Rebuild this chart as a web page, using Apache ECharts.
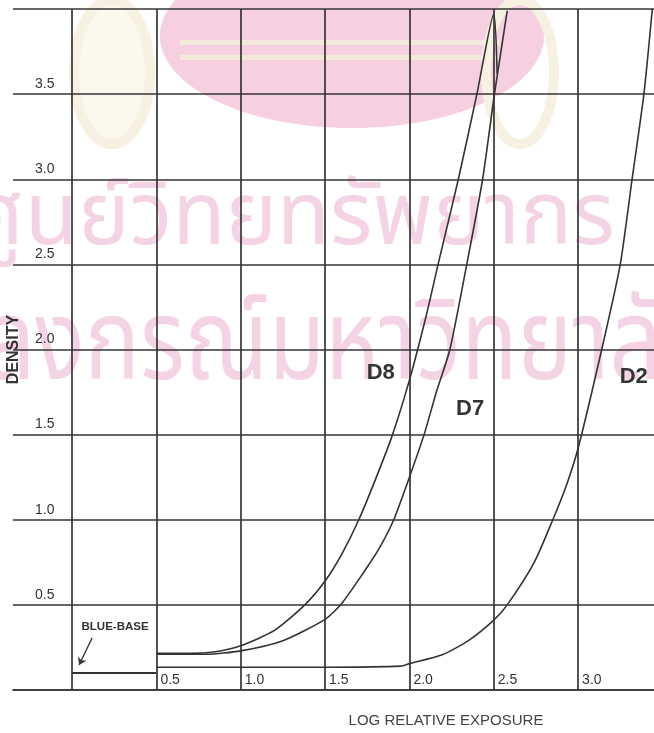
<!DOCTYPE html>
<html><head><meta charset="utf-8">
<script src="https://cdn.jsdelivr.net/npm/echarts@6/dist/echarts.min.js"></script>
<style>html,body{margin:0;padding:0;background:#fff}#c{width:654px;height:733px}</style>
</head><body><div id="c"></div>
<script>
// ---- data ----
const xGridValues = [0, 0.5, 1.0, 1.5, 2.0, 2.5, 3.0];
const xTickValues = [0.5, 1.0, 1.5, 2.0, 2.5, 3.0];
const xTickLabels = ['0.5', '1.0', '1.5', '2.0', '2.5', '3.0'];
const yTickValues = [0.5, 1.0, 1.5, 2.0, 2.5, 3.0, 3.5];
const yTickLabels = ['0.5', '1.0', '1.5', '2.0', '2.5', '3.0', '3.5'];

const d8X = [0.5, 0.7, 0.85, 1.0, 1.2, 1.38, 1.5, 1.6, 1.7, 1.8, 1.9, 2.0, 2.1, 2.17, 2.29, 2.4, 2.5, 2.52];
const d8Y = [0.215, 0.215, 0.225, 0.26, 0.35, 0.5, 0.64, 0.80, 1.0, 1.24, 1.5, 1.82, 2.2, 2.5, 3.0, 3.5, 3.97, 3.62];

const d7X = [0.5, 0.8, 1.0, 1.25, 1.5, 1.6, 1.735, 1.82, 1.907, 2.0, 2.087, 2.16, 2.24, 2.34, 2.434, 2.504, 2.58];
const d7Y = [0.21, 0.21, 0.23, 0.29, 0.415, 0.51, 0.70, 0.83, 1.0, 1.25, 1.5, 1.75, 2.0, 2.5, 3.0, 3.5, 3.99];

const d2X = [0.5, 1.0, 1.5, 1.95, 2.0, 2.19, 2.35, 2.5, 2.58, 2.74, 2.85, 2.93, 3.0, 3.14, 3.25, 3.32, 3.39, 3.44];
const d2Y = [0.134, 0.134, 0.134, 0.14, 0.155, 0.205, 0.29, 0.41, 0.5, 0.75, 1.0, 1.2, 1.42, 2.0, 2.5, 3.0, 3.5, 4.0];

const blueBaseX = [0, 0.5];
const blueBaseY = [0.10, 0.10];

const curveNames = ['D8', 'D7', 'D2'];
const curveLabelX = [1.83, 2.36, 3.33];
const curveLabelY = [1.86, 1.65, 1.84];

const annotText = 'BLUE-BASE';
const annotTextPos = [0.255, 0.37];
const arrowFrom = [0.119, 0.306];
const arrowTo = [0.042, 0.147];

const watermarkLines = ['ศูนย์วิทยทรัพยากร', 'จุฬาลงกรณ์มหาวิทยาลัย'];

// ---- build ----
const zip = (xs, ys) => xs.map((x, i) => [x, ys[i]]);
const INK = '#333333';
const GRIDC = '#353535';
const SANS = 'Liberation Sans, Arial, sans-serif';
const THAI = 'Noto Sans Thai, Noto Sans, sans-serif';

const chart = echarts.init(document.getElementById('c'), null, {renderer: 'canvas'});

function curve(name, xs, ys, idx) {
  return {
    type: 'line', name, data: zip(xs, ys), smooth: 0.22,
    showSymbol: false, symbol: 'none', silent: true,
    lineStyle: {color: INK, width: 1.6}, z: 5,
    markPoint: {
      silent: true, symbol: 'circle', symbolSize: 0,
      label: {show: true, position: 'inside', formatter: curveNames[idx],
        fontFamily: SANS, fontWeight: 'bold', fontSize: 22, color: INK},
      data: [{coord: [curveLabelX[idx], curveLabelY[idx]]}]
    }
  };
}

const option = {
  animation: false,
  backgroundColor: '#ffffff',
  graphic: [
    {type: 'ellipse', z: -10, silent: true, shape: {cx: 352, cy: 36, rx: 192, ry: 92},
      style: {fill: '#f6d0e1'}},
    {type: 'rect', z: -9, silent: true, shape: {x: 180, y: 40, width: 320, height: 5},
      style: {fill: '#f4eadb'}},
    {type: 'rect', z: -9, silent: true, shape: {x: 180, y: 55, width: 320, height: 5},
      style: {fill: '#f4eadb'}},
    {type: 'ellipse', z: -9, silent: true, shape: {cx: 112, cy: 72, rx: 38, ry: 72},
      style: {fill: '#fbf8ee', stroke: '#f6f1e0', lineWidth: 10}},
    {type: 'ellipse', z: -9, silent: true, shape: {cx: 520, cy: 72, rx: 34, ry: 72},
      style: {fill: 'none', stroke: '#f6f1e0', lineWidth: 10}},
    {type: 'text', z: -8, silent: true, x: -30, y: 183,
      style: {text: watermarkLines[0], fontSize: 87, fontFamily: THAI, fill: '#f3d3e4'}},
    {type: 'text', z: -8, silent: true, x: -165, y: 300, scaleY: 1.22,
      style: {text: watermarkLines[1], fontSize: 92, fontFamily: THAI, fill: '#f3d3e4'}}
  ],
  grid: {left: 13, right: 0, top: 9, bottom: 43, containLabel: false, outerBoundsMode: 'none'},
  xAxis: {
    type: 'value', min: -0.35, max: 3.45,
    name: 'LOG RELATIVE EXPOSURE', nameLocation: 'middle', nameGap: 23,
    nameTextStyle: {fontFamily: SANS, fontSize: 15, color: '#444', padding: [0, 0, 0, 225]},
    axisLine: {show: true, onZero: false, lineStyle: {color: GRIDC, width: 1.7}},
    axisTick: {show: false},
    splitLine: {show: false},
    axisLabel: {
      inside: true, margin: 3, customValues: xTickValues,
      formatter: v => { const i = xTickValues.findIndex(t => Math.abs(t - v) < 1e-6); return i >= 0 ? xTickLabels[i] : ''; },
      align: 'left', verticalAlign: 'bottom', padding: [0, 0, 0, 4],
      fontFamily: SANS, fontSize: 14, color: INK
    }
  },
  yAxis: {
    type: 'value', min: 0, max: 4, interval: 0.5,
    name: 'DENSITY', nameLocation: 'middle', nameRotate: 90, nameGap: -9,
    nameTextStyle: {fontFamily: SANS, fontSize: 16, fontWeight: 'bold', color: INK},
    axisLine: {show: false}, axisTick: {show: false},
    splitLine: {show: true, lineStyle: {color: GRIDC, width: 1.7}},
    axisLabel: {
      inside: true, margin: 22,
      formatter: v => { const i = yTickValues.findIndex(t => Math.abs(t - v) < 1e-6); return i >= 0 ? yTickLabels[i] : ''; },
      align: 'left', verticalAlign: 'bottom', padding: [0, 0, 3, 0],
      fontFamily: SANS, fontSize: 14, color: INK
    }
  },
  series: [
    {
      type: 'line', name: 'Blue-base', data: zip(blueBaseX, blueBaseY),
      showSymbol: false, symbol: 'none', silent: true,
      lineStyle: {color: INK, width: 2.2}, z: 5,
      markLine: {
        silent: true, symbol: 'none', animation: false,
        label: {show: false},
        lineStyle: {color: GRIDC, width: 1.7, type: 'solid'},
        data: xGridValues.map(v => ({xAxis: v})).concat([
          [{coord: arrowFrom, symbol: 'none'}, {coord: arrowTo, symbol: 'arrow', symbolSize: 7,
            lineStyle: {color: INK, width: 1.3}}]
        ])
      },
      markPoint: {
        silent: true, symbol: 'circle', symbolSize: 0,
        label: {show: true, position: 'inside', formatter: annotText,
          fontFamily: SANS, fontWeight: 'bold', fontSize: 11.5, color: INK},
        data: [{coord: annotTextPos}]
      }
    },
    curve('D8', d8X, d8Y, 0),
    curve('D7', d7X, d7Y, 1),
    curve('D2', d2X, d2Y, 2)
  ]
};
chart.setOption(option);
</script>
</body></html>
